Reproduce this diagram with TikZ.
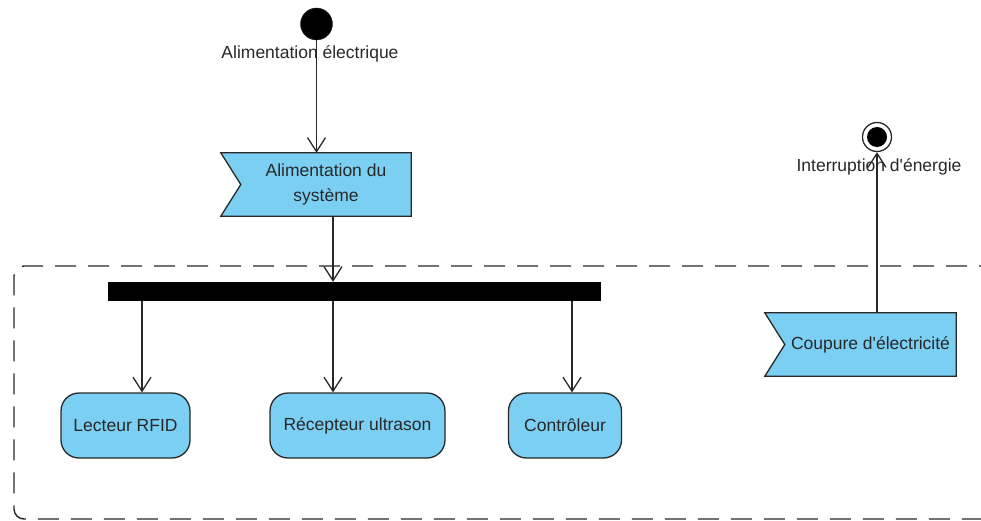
\documentclass[tikz,border=0pt]{standalone}
\usepackage{fontspec}
\setmainfont{Liberation Sans}[Ligatures=TeXOff]
\usetikzlibrary{arrows.meta,calc,backgrounds}
\definecolor{actfill}{RGB}{122,207,243}
\definecolor{ink}{RGB}{40,40,40}
\begin{document}
\begin{tikzpicture}[x=1pt,y=-1pt,
  every node/.style={font=\fontsize{17.5}{25}\selectfont, text=ink},
  arr/.style={draw=ink, line width=1.3pt,
    -{Straight Barb[length=14pt,width=18pt,line width=1.3pt]}},
  action/.style={draw=ink, fill=actfill, line width=1.3pt,
    rounded corners=18pt, minimum height=65pt, inner sep=0pt},
  eventtext/.style={inner sep=0pt, align=center, minimum height=63pt},
  eventshape/.style={draw=ink, fill=actfill, line width=1.3pt},
  forkbar/.style={fill=black, inner sep=0pt, minimum width=493pt, minimum height=19pt},
  startdot/.style={circle, fill=black, draw=ink, inner sep=0pt, minimum size=32pt},
  endring/.style={circle, draw=ink, fill=white, line width=1.3pt, inner sep=0pt, minimum size=29pt},
  enddot/.style={circle, fill=black, inner sep=0pt, minimum size=20pt},
  region/.style={draw=ink, line width=1.4pt, dash pattern=on 21pt off 12pt, rounded corners=10pt}
]
\useasboundingbox (0,0) rectangle (981,521);

% interruptible region
\draw[region] (1000,266) -- (14,266) -- (14,519) -- (1000,519);

% initial and final nodes
\node[startdot] (init) at (316.5,24) {};
\node (initlab) at (310,54) {Alimentation électrique};
\node[endring] (final) at (877,137) {};
\node[enddot] (finaldot) at (final.center) {};
\node (finallab) at (879,167) {Interruption d'énergie};

% accept-event actions (text area; the notched outline is drawn behind)
\node[eventtext, minimum width=170pt] (acc) at (326,184.5) {Alimentation du\\système};
\node[eventtext, minimum width=171pt] (cut) at (870.5,344.5) {Coupure d'électricité};
\begin{scope}[on background layer]
  \foreach \n in {acc,cut}
    \draw[eventshape] ([xshift=-20pt]\n.north west) -- (\n.north east)
      -- (\n.south east) -- ([xshift=-20pt]\n.south west) -- (\n.west) -- cycle;
\end{scope}

% fork bar
\node[forkbar] (bar) at (354.5,291.5) {};

% actions
\node[action, minimum width=129pt] (rfid) at (125.5,425.5) {Lecteur RFID};
\node[action, minimum width=175pt] (ultra) at (357.5,425.5) {Récepteur ultrason};
\node[action, minimum width=113pt] (ctrl) at (565,425.5) {Contrôleur};

% connector positions
\coordinate (p1) at ([xshift=16.5pt]rfid.north);
\coordinate (p2) at ([xshift=-24.5pt]ultra.north);
\coordinate (p3) at ([xshift=7pt]ctrl.north);

% connectors
\draw[arr] (init.south) -- (init |- acc.north);
\draw[arr] (p2 |- acc.south) -- (p2 |- bar.north);
\draw[arr] (p1 |- bar.south) -- (p1);
\draw[arr] (p2 |- bar.south) -- (p2);
\draw[arr] (p3 |- bar.south) -- (p3);
\draw[arr] (final |- cut.north) -- (final.south);
\end{tikzpicture}
\end{document}
